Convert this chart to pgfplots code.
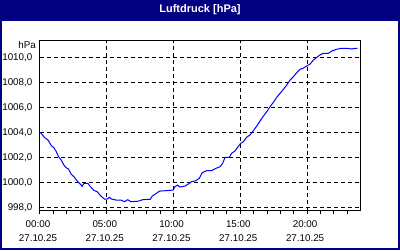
\documentclass[border=0pt]{standalone}
\usepackage{fontspec}
\setmainfont{Liberation Sans}
\usepackage{pgfplots}
\pgfplotsset{compat=1.18}
\definecolor{navy}{RGB}{0,0,128}
\definecolor{lineblue}{RGB}{0,0,255}
\begin{document}
\begin{tikzpicture}[x=1pt,y=1pt]
\fill[navy] (0,0) rectangle (400,250);
\fill[white] (2,2) rectangle (398,229.5);
\node[text=white,font=\fontsize{11}{12}\selectfont\bfseries] at (200,240) {Luftdruck [hPa]};
\begin{axis}[
  name=ax,
  at={(40pt,39.3pt)}, anchor=south west,
  scale only axis, width=320.5pt, height=170.7pt,
  xmin=0, xmax=24, ymin=997.73, ymax=1011.38,
  axis line style={black, line width=1pt},
  xtick={0,5,10,15,20},
  minor xtick={1,2,3,4,6,7,8,9,11,12,13,14,16,17,18,19,21,22,23},
  xticklabels={{00:00\\27.10.25},{05:00\\27.10.25},{10:00\\27.10.25},{15:00\\27.10.25},{20:00\\27.10.25}},
  xtick pos=left,
  ytick={998,1000,1002,1004,1006,1008,1010},
  ytick style={draw=none},
  xtick style={black, line width=1pt},
  minor tick style={black, line width=1pt},
  tick align=outside,
  major tick length=3.5pt, minor tick length=3.5pt,
  grid=major,
  major grid style={black, line width=1pt, dash pattern=on 4pt off 3pt},
  tick label style={font=\fontsize{9.8}{14.7}\selectfont, inner sep=0pt},
  xticklabel style={align=center, yshift=-5.8pt, xshift=-2pt},
  yticklabel style={xshift=-4pt},
  /pgf/number format/.cd, fixed, fixed zerofill, precision=1, use comma, 1000 sep={}, assume math mode=true,
]
\addplot[lineblue, line width=1pt] coordinates {
(0.0,1004.0) (0.1,1003.9) (0.35,1003.57) (0.6,1003.38) (0.85,1002.93) (1.04,1002.77)
(1.22,1002.45) (1.39,1002.05) (1.59,1001.78) (1.79,1001.38) (1.96,1001.17) (2.14,1001.06)
(2.34,1000.64) (2.54,1000.45) (2.79,1000.1) (3.03,999.84) (3.16,999.68) (3.28,999.92)
(3.58,999.92) (3.78,999.65) (4.03,999.36) (4.28,999.25) (4.53,998.93) (4.83,998.66)
(5.02,998.66) (5.2,998.8) (5.37,998.66) (5.7,998.58) (6.07,998.58) (6.32,998.45)
(6.57,998.61) (6.81,998.45) (7.31,998.48) (7.69,998.61) (8.06,998.64) (8.25,998.64)
(8.41,998.9) (8.71,999.12) (8.96,999.3) (9.45,999.33) (9.97,999.38) (10.1,999.65)
(10.3,999.78) (10.47,999.62) (10.85,999.7) (11.1,999.86) (11.35,1000.05) (11.68,1000.13)
(11.93,1000.32) (12.15,1000.77) (12.48,1000.93) (12.85,1000.93) (13.18,1001.12) (13.48,1001.25)
(13.68,1001.52) (13.86,1002.0) (14.18,1002.0) (14.35,1002.32) (14.6,1002.5) (14.8,1002.8)
(15.03,1003.12) (15.23,1003.25) (15.47,1003.6) (15.72,1003.78) (15.98,1004.13) (16.23,1004.5)
(16.48,1004.9) (16.73,1005.3) (16.98,1005.65) (17.23,1006.05) (17.48,1006.4) (17.73,1006.8)
(17.98,1007.12) (18.23,1007.44) (18.48,1007.78) (18.73,1008.18) (18.98,1008.45) (19.27,1008.82)
(19.48,1009.04) (19.73,1009.14) (19.98,1009.3) (20.23,1009.46) (20.48,1009.78) (20.73,1010.0)
(20.98,1010.2) (21.22,1010.32) (21.6,1010.32) (21.85,1010.5) (22.23,1010.64) (22.6,1010.72)
(22.98,1010.72) (23.35,1010.66) (23.6,1010.72) (23.77,1010.72)
};
\end{axis}
\node[anchor=east, inner sep=0pt, font=\fontsize{9.8}{11}\selectfont] at ([xshift=-4pt, yshift=-4.5pt]ax.north west) {hPa};
\end{tikzpicture}
\end{document}
